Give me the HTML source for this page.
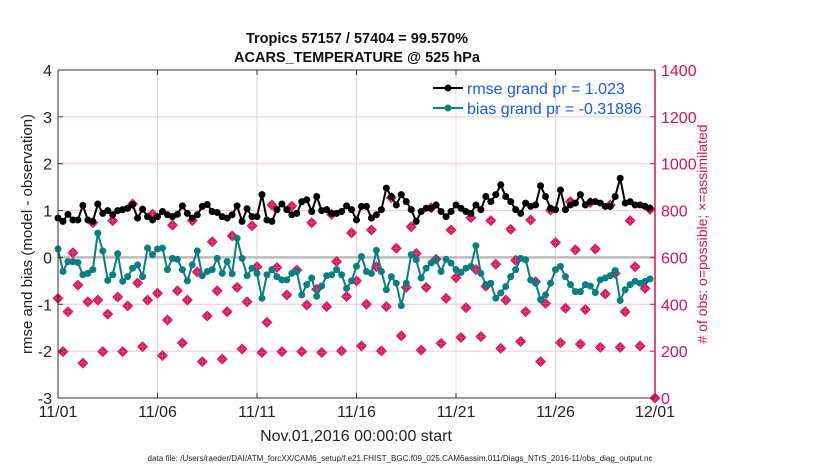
<!DOCTYPE html>
<html><head><meta charset="utf-8"><style>
body{margin:0;background:#fff;}
svg{display:block;font-family:"Liberation Sans",Arial,sans-serif;}
</style></head><body>
<svg id="chart" width="830" height="470" viewBox="0 0 830 470">
<text x="357" y="43" text-anchor="middle" font-size="14.5" font-weight="bold" fill="#111">Tropics 57157 / 57404 = 99.570%</text>
<text x="357" y="62" text-anchor="middle" font-size="14.5" font-weight="bold" fill="#111">ACARS_TEMPERATURE @ 525 hPa</text>
<g id="grid"></g>
<g id="marks"></g>
<g id="axes"></g>
<text transform="translate(32,234) rotate(-90)" text-anchor="middle" font-size="15" fill="#222">rmse and bias (model - observation)</text>
<text transform="translate(707,234) rotate(-90)" text-anchor="middle" font-size="14" fill="#d4145a"># of obs: o=possible; ×=assimilated</text>
<text x="356" y="441" text-anchor="middle" font-size="16" fill="#222">Nov.01,2016 00:00:00 start</text>
<text x="400" y="461" text-anchor="middle" font-size="8" textLength="505" lengthAdjust="spacingAndGlyphs" fill="#222">data file: /Users/raeder/DAI/ATM_forcXX/CAM6_setup/f.e21.FHIST_BGC.f09_025.CAM6assim.011/Diags_NTrS_2016-11/obs_diag_output.nc</text>
<g>
<line x1="433" y1="88" x2="463" y2="88" stroke="#000" stroke-width="2"/>
<circle cx="448" cy="88" r="3.5" fill="#000"/>
<text x="467" y="94" font-size="16" fill="#1a55ff">rmse grand pr = 1.023</text>
<line x1="433" y1="108" x2="463" y2="108" stroke="#0a7f7f" stroke-width="2"/>
<circle cx="448" cy="108" r="3.5" fill="#0a7f7f"/>
<text x="467" y="114" font-size="16" fill="#1a55ff">bias grand pr = -0.31886</text>
</g>
</svg>
<script>
const xTickLabels = ["11/01","11/06","11/11","11/16","11/21","11/26","12/01"];
const leftTicks = [4,3,2,1,0,-1,-2,-3];
const rightTicks = [0,200,400,600,800,1000,1200,1400];
const rmse = [0.84,0.77,0.92,0.80,0.80,1.11,0.80,0.77,1.14,0.94,1.00,0.91,1.00,1.02,1.05,1.13,0.84,1.03,0.87,0.80,0.87,0.98,0.91,0.87,0.92,1.10,0.94,0.84,0.91,1.09,1.13,0.98,0.96,0.87,0.84,0.91,1.10,0.77,1.04,0.87,0.87,1.34,
0.80,0.77,1.02,1.14,1.02,0.91,0.94,1.19,1.23,0.98,1.30,1.00,1.02,0.94,0.94,0.98,1.10,1.02,0.80,1.09,1.09,0.84,0.91,1.02,1.48,1.30,1.12,1.34,1.19,1.02,0.77,0.98,1.05,1.05,1.12,0.98,0.87,0.98,
1.12,1.05,0.98,0.94,1.12,1.02,1.30,1.19,1.34,1.55,1.30,1.19,1.02,0.94,1.16,1.09,1.12,1.53,1.30,1.05,1.02,1.44,1.02,1.12,1.16,1.34,1.12,1.19,1.19,1.16,1.09,1.09,1.30,1.69,1.16,1.19,1.12,1.12,1.09,1.05];
const bias = [0.18,-0.30,-0.09,-0.09,-0.11,-0.37,-0.34,-0.26,0.52,0.14,-0.49,-0.37,0.08,-0.51,-0.41,-0.23,-0.16,-0.41,0.20,0.06,0.18,0.20,-0.26,-0.02,-0.04,-0.26,-0.50,-0.16,0.14,-0.39,-0.30,-0.26,-0.02,-0.34,-0.09,-0.35,0.41,-0.02,-0.39,-0.23,-0.34,-0.87,
-0.37,-0.26,-0.41,-0.48,-0.48,-0.34,-0.30,-0.80,-0.58,-0.44,-0.83,-0.61,-0.39,-0.37,-0.26,-0.37,-0.66,-0.50,-0.19,0.02,-0.30,-0.34,0.15,-0.30,-0.69,-0.41,-0.55,-1.03,-0.55,0.06,-0.05,-0.44,-0.23,-0.12,-0.05,-0.30,-0.04,-0.12,
-0.26,-0.32,-0.23,-0.19,0.25,-0.34,-0.58,-0.55,-0.87,-0.76,-0.62,-0.41,-0.26,-0.02,-0.05,-0.48,-0.55,-0.90,-0.80,-0.55,-0.26,-0.19,-0.41,-0.58,-0.73,-0.73,-0.58,-0.61,-0.75,-0.48,-0.44,-0.39,-0.28,-0.92,-0.69,-0.58,-0.51,-0.55,-0.51,-0.46];
const obsCount = [425,198,368,620,482,149,411,748,418,198,358,757,431,198,393,828,491,219,418,785,447,181,333,738,458,235,418,757,538,155,350,667,458,166,368,692,472,209,411,735,
560,194,323,824,557,198,440,819,546,198,397,748,464,194,390,784,582,201,433,705,500,222,400,717,560,201,390,855,639,265,472,731,617,205,472,812,592,233,425,717,
514,258,385,770,548,262,477,757,571,212,418,720,588,241,368,760,496,155,404,802,663,236,383,838,632,230,378,834,636,216,444,824,532,216,368,757,560,222,468,805,0];

const NS='http://www.w3.org/2000/svg';
const L=58,R=655,T=70,B=398,DAYS=30,STEPS=4;
const xOf=i=>L+(i/STEPS)*(R-L)/DAYS;
const yL=v=>B-(v+3)/7*(B-T);
const yR=v=>B-v/1400*(B-T);
function mk(tag,attrs,parent){const e=document.createElementNS(NS,tag);for(const k in attrs)e.setAttribute(k,attrs[k]);parent.appendChild(e);return e;}
const grid=document.getElementById('grid'),marks=document.getElementById('marks'),axes=document.getElementById('axes');
xTickLabels.forEach((lab,k)=>{
  const x=L+k*5*(R-L)/DAYS;
  if(k>0&&k<xTickLabels.length-1){const g=mk('line',{x1:x,x2:x,y1:T,y2:B,stroke:'#d8d8d8','stroke-width':1},grid);
  
  }
  mk('line',{x1:x,x2:x,y1:B,y2:B-5,stroke:'#333'},axes);
  mk('line',{x1:x,x2:x,y1:T,y2:T+5,stroke:'#333'},axes);
  const t=mk('text',{x:x,y:417,'text-anchor':'middle','font-size':16,fill:'#222'},axes);
  t.textContent=lab;
  
  
});
rightTicks.forEach(v=>{
  const y=yR(v);
  if(v>0&&v<1400){const g=mk('line',{x1:L,x2:R,y1:y,y2:y,stroke:'#f2c6d8','stroke-width':1},grid);
  
  }
  mk('line',{x1:R,x2:R-5,y1:y,y2:y,stroke:'#d4145a'},axes);
  const t=mk('text',{x:661,y:y+6,'font-size':16,fill:'#d4145a'},axes);
  t.textContent=v;
  
  
});
const zl=mk('line',{x1:L,x2:R,y1:yL(0),y2:yL(0),stroke:'#bbb','stroke-width':2.5},grid);


leftTicks.forEach(v=>{
  const y=yL(v);
  mk('line',{x1:L,x2:L+5,y1:y,y2:y,stroke:'#333'},axes);
  const t=mk('text',{x:52,y:y+6,'text-anchor':'end','font-size':16,fill:'#222'},axes);
  t.textContent=v;
  
  
});
mk('line',{x1:L,x2:L,y1:T,y2:B,stroke:'#333','stroke-width':1},axes);
mk('line',{x1:L,x2:R,y1:T,y2:T,stroke:'#333','stroke-width':1},axes);
mk('line',{x1:L,x2:R,y1:B,y2:B,stroke:'#333','stroke-width':1},axes);
mk('line',{x1:R,x2:R,y1:T,y2:B,stroke:'#d4145a','stroke-width':1.5},axes);
obsCount.forEach((v,i)=>{
  const x=xOf(i),y=yR(v);
  const d=mk('path',{d:`M${x},${y-5.5}L${x+5.5},${y}L${x},${y+5.5}L${x-5.5},${y}Z`,fill:'#d4145a'},marks);
  
  
  mk('path',{d:`M${x-4},${y}H${x+4}M${x},${y-4}V${y+4}`,stroke:'#e8457f','stroke-width':1},marks);
});
function series(vals,color,name){
  const pts=vals.map((v,i)=>xOf(i)+','+yL(v)).join(' ');
  const p=mk('polyline',{points:pts,fill:'none',stroke:color,'stroke-width':2},marks);
  
  
  vals.forEach((v,i)=>{
    const c=mk('circle',{cx:xOf(i),cy:yL(v),r:3.5,fill:color},marks);
    
    
  });
}
series(bias,'#0a7f7f','bias');
series(rmse,'#000','rmse');
</script>
</body></html>
